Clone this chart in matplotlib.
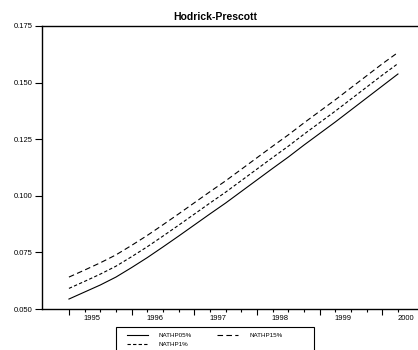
import matplotlib
matplotlib.use("Agg")
import matplotlib.pyplot as plt
from matplotlib.patches import Rectangle
from matplotlib.transforms import blended_transform_factory

plt.rcParams['font.family'] = ['Liberation Sans', 'DejaVu Sans']

# Quarterly observations 1995Q1 .. 2000Q2
quarters = [1995.0 + 0.25 * k for k in range(22)]

nathp05 = [0.0544, 0.0575, 0.0606, 0.0641, 0.0683, 0.0727, 0.0774, 0.0822,
           0.0871, 0.0920, 0.0968, 0.1019, 0.1070, 0.1121, 0.1171, 0.1224,
           0.1275, 0.1326, 0.1379, 0.1432, 0.1485, 0.1538]
nathp1 = [0.0591, 0.0622, 0.0654, 0.0689, 0.0731, 0.0775, 0.0822, 0.0870,
          0.0919, 0.0968, 0.1016, 0.1067, 0.1118, 0.1169, 0.1219, 0.1272,
          0.1323, 0.1374, 0.1427, 0.1480, 0.1533, 0.1584]
nathp15 = [0.0641, 0.0672, 0.0704, 0.0739, 0.0781, 0.0825, 0.0872, 0.0920,
           0.0969, 0.1018, 0.1066, 0.1117, 0.1168, 0.1219, 0.1269, 0.1322,
           0.1373, 0.1424, 0.1477, 0.1530, 0.1583, 0.1633]

year_ticks = [1995, 1996, 1997, 1998, 1999, 2000]
year_labels = ['1995', '1996', '1997', '1998', '1999', '2000']
y_ticks = [0.050, 0.075, 0.100, 0.125, 0.150, 0.175]
y_labels = ['0.050', '0.075', '0.100', '0.125', '0.150', '0.175']

W, H = 418, 350
fig = plt.figure(figsize=(W / 100, H / 100), dpi=100)
ax = fig.add_axes([42 / W, 41 / H, 1 - 42 / W, 283 / H])

l1, = ax.plot(quarters, nathp05, color='black', lw=0.8, label='NATHP05%')
l2, = ax.plot(quarters, nathp1, color='black', lw=0.8, dashes=(3, 2), label='NATHP1%')
l3, = ax.plot(quarters, nathp15, color='black', lw=0.8, dashes=(5, 3), label='NATHP15%')

ax.set_xlim(1994.57, 2000.57)
ax.set_ylim(0.050, 0.175)

ax.spines['right'].set_visible(False)
for s in ['left', 'top', 'bottom']:
    ax.spines[s].set_linewidth(1.0)
    ax.spines[s].set_color('black')

ax.set_yticks(y_ticks)
ax.set_yticklabels(y_labels, fontsize=5.5)
ax.tick_params(axis='y', length=5, width=0.8, pad=2)

ax.set_xticks(year_ticks)
ax.set_xticklabels([])
ax.set_xticks(quarters, minor=True)
ax.tick_params(axis='x', which='major', length=4.5, width=0.8)
ax.tick_params(axis='x', which='minor', length=2.5, width=0.8)

trans = blended_transform_factory(ax.transData, ax.transAxes)
for yr, lab in zip(year_ticks, year_labels):
    ax.text(yr + 0.375, -0.035, lab, transform=trans, ha='center', va='center',
            fontsize=5.5)

fig.text(215 / W, 1 - 16.5 / H, 'Hodrick-Prescott', ha='center', va='center',
         fontsize=7.5, fontweight='bold')

# Legend box (extends beyond the bottom of the image, as in the reference)
fig.patches.append(Rectangle((116 / W, -10 / H), (314 - 116) / W, (350 - 327 + 10) / H,
                             transform=fig.transFigure, fill=False,
                             edgecolor='black', linewidth=0.8))

leg = fig.legend(handles=[l1, l2, l3], labels=['NATHP05%', 'NATHP1%', 'NATHP15%'],
                 ncol=2, loc='upper left', bbox_to_anchor=(127 / W, 1 - 333 / H),
                 fontsize=4.5, frameon=False, handlelength=3.4,
                 columnspacing=4.0, borderpad=0, labelspacing=0.55,
                 handletextpad=1.7, borderaxespad=0)

fig.savefig('out.png', dpi=100)
